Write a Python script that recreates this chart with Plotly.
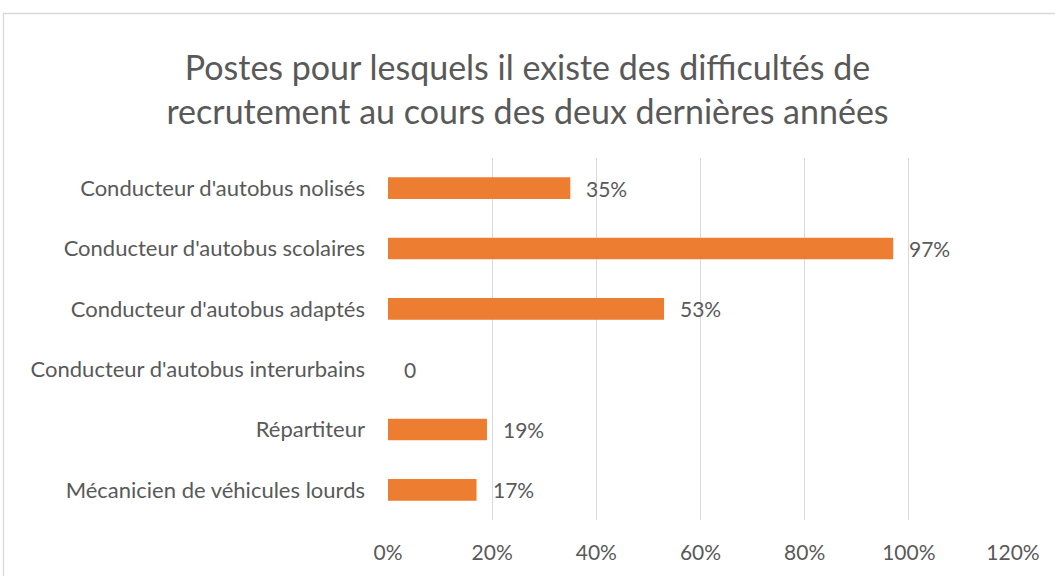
import plotly.graph_objects as go

categories = [
    "Conducteur d'autobus nolisés",
    "Conducteur d'autobus scolaires",
    "Conducteur d'autobus adaptés",
    "Conducteur d'autobus interurbains",
    "Répartiteur",
    "Mécanicien de véhicules lourds",
]
values = [0.35, 0.97, 0.53, 0.0, 0.19, 0.17]
labels = ["35%", "97%", "53%", "0", "19%", "17%"]
tick_vals = [0, 0.2, 0.4, 0.6, 0.8, 1.0, 1.2]
tick_text = ["0%", "20%", "40%", "60%", "80%", "100%", "120%"]

FONT = "Lato"
GREY = "#595959"

fig = go.Figure()
fig.add_trace(go.Bar(
    x=values, y=categories, orientation="h",
    marker=dict(color="#ED7D31", line=dict(width=0)),
    width=0.36, hoverinfo="skip",
))

for c, v, t in zip(categories, values, labels):
    fig.add_annotation(x=v, y=c, text=t, showarrow=False, xanchor="left",
                       xshift=14, font=dict(family=FONT, size=21, color=GREY))

W, H = 1055, 576
L, R, T, B = 388, 42, 158, 56
pw, ph = W - L - R, H - T - B

def px(x):
    return (x - L) / pw

def py(y):
    return (H - B - y) / ph

fig.add_shape(type="rect", xref="paper", yref="paper",
              x0=px(3.5), x1=px(1062), y0=py(582), y1=py(13.5),
              line=dict(color="#D9D9D9", width=1.3), fillcolor="rgba(0,0,0,0)", layer="below")

fig.update_layout(
    width=W, height=H,
    margin=dict(l=L, r=R, t=T, b=B),
    paper_bgcolor="white", plot_bgcolor="white",
    showlegend=False,
    title=dict(text="Postes pour lesquels il existe des difficultés de<br>recrutement au cours des deux dernières années",
               x=0.5, xref="container", xanchor="center", y=1 - 80 / H, yanchor="middle",
               font=dict(family=FONT, size=34, color=GREY)),
    xaxis=dict(range=[0, 1.2], tickvals=tick_vals, ticktext=tick_text,
               showgrid=True, gridcolor="#D9D9D9", gridwidth=1.3,
               zeroline=False, showline=False, ticks="",
               tickfont=dict(family=FONT, size=21, color=GREY), ticklabelstandoff=18,
               fixedrange=True),
    yaxis=dict(categoryorder="array", categoryarray=categories[::-1],
               showgrid=False, zeroline=False, showline=False, ticks="",
               tickfont=dict(family=FONT, size=22, color=GREY), ticklabelstandoff=22,
               fixedrange=True),
    font=dict(family=FONT, color=GREY),
)

fig.write_html("out.html", config={"displayModeBar": False},
               post_script="document.body.style.margin='0';")
